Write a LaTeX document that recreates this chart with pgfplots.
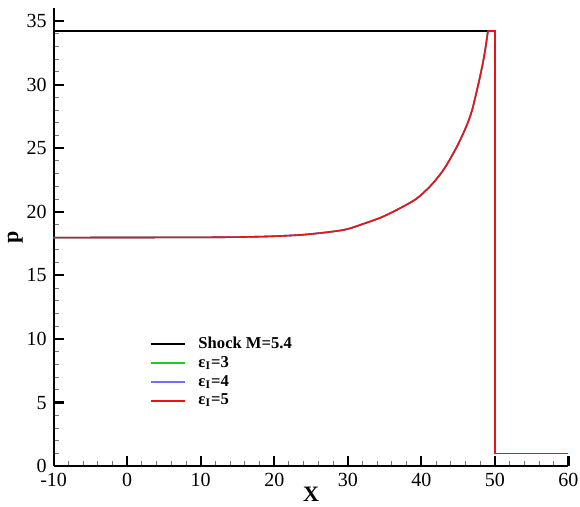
\documentclass[border=0pt]{standalone}
\usepackage{fontspec}
\setmainfont{Liberation Serif}
\usepackage{pgfplots}
\pgfplotsset{compat=1.18}

\definecolor{tpgreen}{RGB}{40,200,40}
\definecolor{tpblue}{RGB}{110,110,255}
\definecolor{tpred}{RGB}{235,20,20}

% pressure profile behind the shock (same for all three eps_I values)
\pgfplotstableread{
x      p
-10    17.97
0      17.98
10     17.99
16     18.02
20     18.08
24     18.20
28     18.45
30     18.65
32.1   19.05
34.5   19.55
36.65  20.15
39.27  21.00
41.18  22.00
42.5   22.90
43.45  23.70
44.9   25.20
46.17  26.80
46.9   28.00
47.53  29.50
48.0   30.70
48.43  31.90
48.75  33.00
49.05  34.22
}\profile

% flat top, jump and pre-shock state of the computed profile
\pgfplotstableread{
x      p
49.05  34.22
50     34.22
50     1.0
60     1.0
}\jump

% analytic shock solution
\pgfplotstableread{
x    p
-10  34.22
50   34.22
50   1.0
60   1.0
}\shock

\newcommand{\legtext}[1]{\hspace*{4.5pt}\textbf{#1}}

\begin{document}
\begin{tikzpicture}
\useasboundingbox (-26.8pt,-20pt) rectangle (263.15pt,233.05pt);
\begin{axis}[
  at={(0pt,0pt)}, anchor=south west,
  scale only axis,
  width=257.4pt, height=228.9pt,
  xmin=-10, xmax=60, ymin=0, ymax=36,
  axis lines=left,
  axis line style={-, line width=1.1pt},
  xtick={-10,0,...,60},
  ytick={0,5,...,35},
  minor x tick num=4, minor y tick num=4,
  tick align=inside,
  major tick length=5pt, minor tick length=2.6pt,
  major tick style={line width=1.1pt, black},
  minor tick style={line width=0.5pt, black!55},
  /pgf/number format/assume math mode=true,
  ticklabel style={font=\fontsize{10}{12}\selectfont},
  xlabel={\textbf{X}},
  ylabel={\textbf{p}},
  label style={font=\fontsize{11}{13}\selectfont},
  xlabel style={yshift=6.5pt},
  ylabel style={yshift=-5pt},
  legend cell align=left,
  legend image post style={xshift=-4.5pt},
  legend style={
    at={(axis cs:2.2,10.85)}, anchor=north west,
    draw=none, fill=none,
    font=\fontsize{8.3}{9.5}\selectfont,
    row sep=-1.5pt,
  },
]
\addplot[black, line width=0.8pt] table[x=x, y=p] {\shock};
\addlegendentry{\legtext{Shock M=5.4}}
\addplot[tpgreen, line width=0.8pt, smooth] table[x=x, y=p] {\profile};
\addlegendentry{\legtext{ε\textsubscript{I}=3}}
\addplot[tpblue, line width=0.8pt, smooth] table[x=x, y=p] {\profile};
\addlegendentry{\legtext{ε\textsubscript{I}=4}}
\addplot[tpred, line width=0.8pt, smooth] table[x=x, y=p] {\profile};
\addlegendentry{\legtext{ε\textsubscript{I}=5}}
\addplot[tpred, line width=0.8pt, forget plot] table[x=x, y=p] {\jump};
\end{axis}
\end{tikzpicture}
\end{document}
